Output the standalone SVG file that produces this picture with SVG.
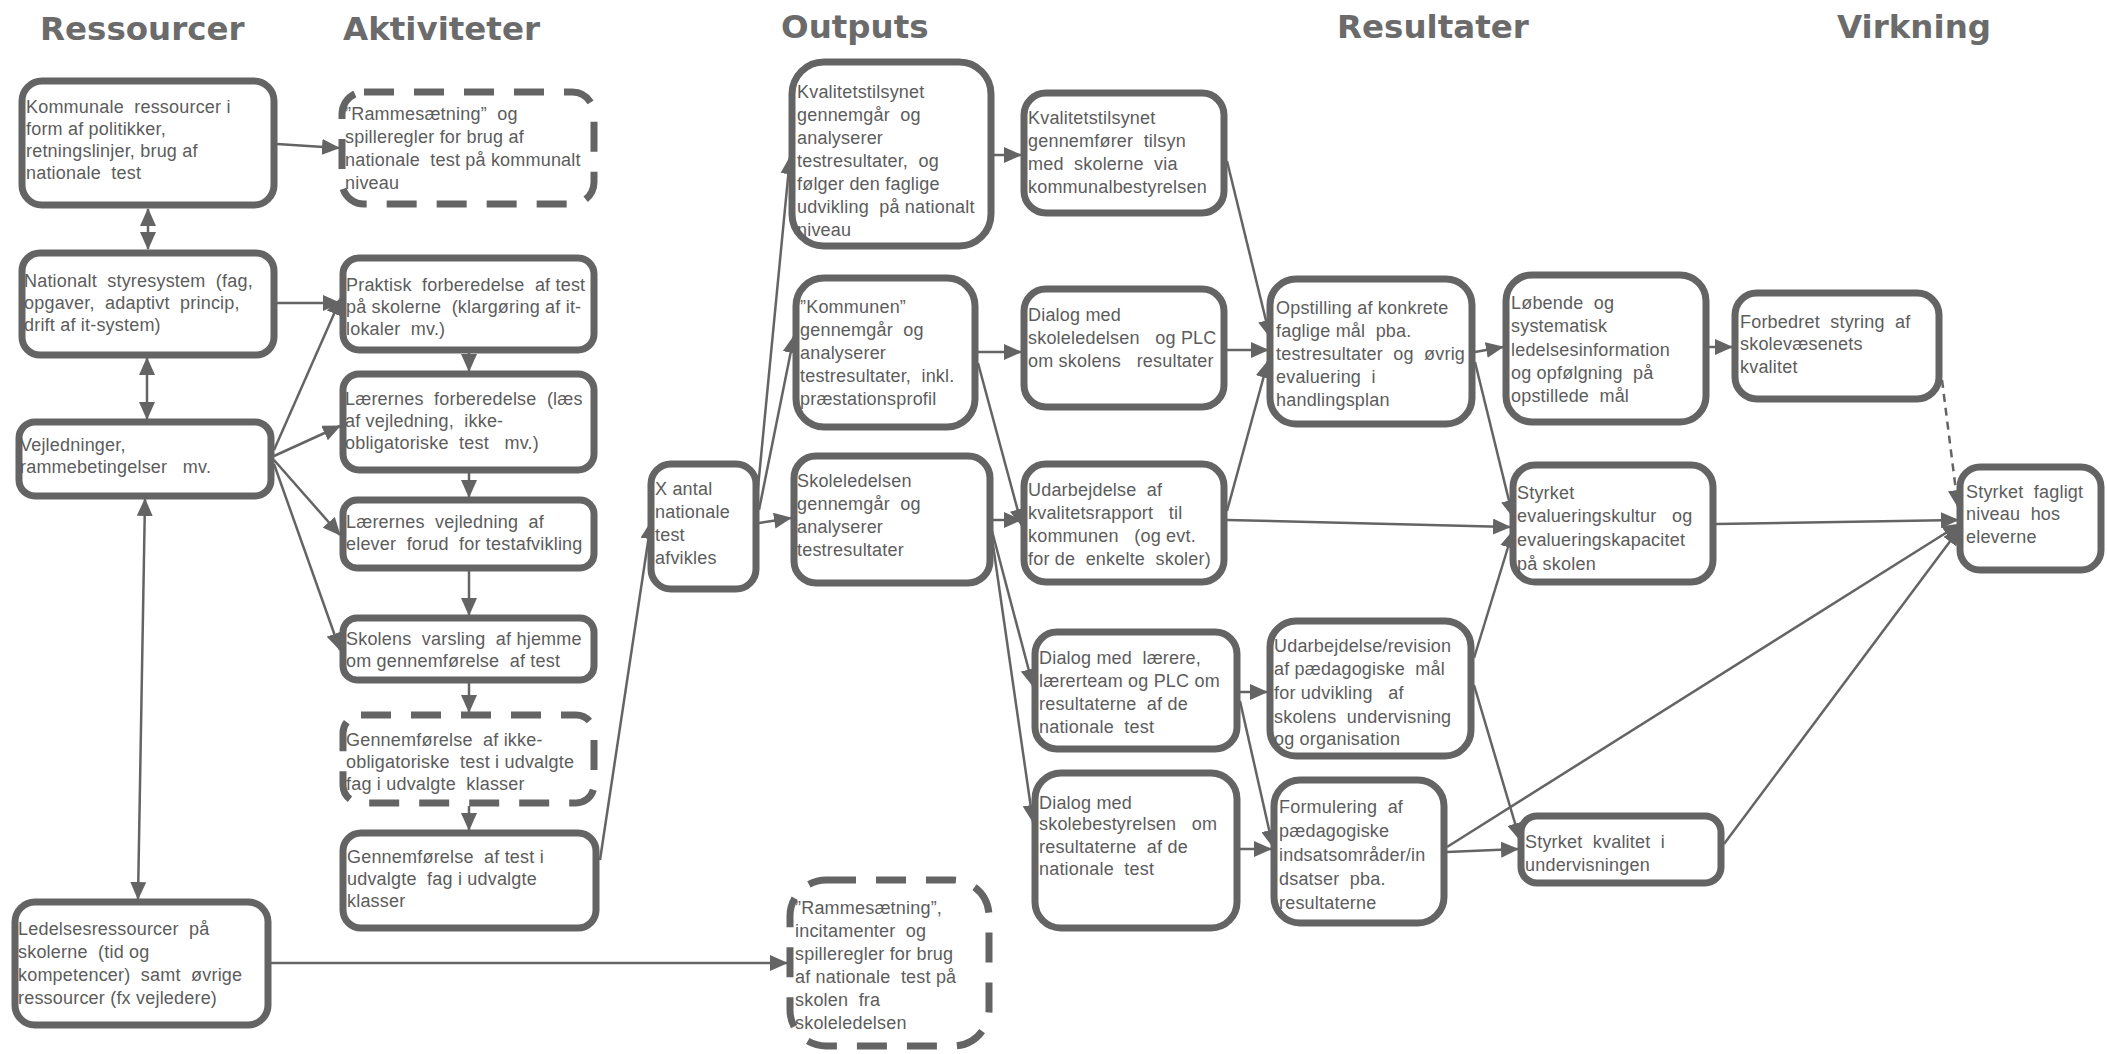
<svg xmlns="http://www.w3.org/2000/svg" width="2107" height="1054" viewBox="0 0 2107 1054">
<defs>
<marker id="ah" markerUnits="userSpaceOnUse" markerWidth="18" markerHeight="16" refX="17" refY="8" orient="auto-start-reverse" viewBox="0 0 18 16">
<path d="M0,0 L18,8 L0,16 z" fill="#646464"/>
</marker>
<style>
.box{fill:#fff;stroke:#646464;stroke-width:7}
.dash{fill:#fff;stroke:#646464;stroke-width:7;stroke-dasharray:30 20}
.t{font-family:"Liberation Sans",Arial,sans-serif;font-size:18px;letter-spacing:0.2px;fill:#5c5c5c;white-space:pre}
.h{font-family:"DejaVu Sans",sans-serif;font-weight:bold;font-size:32.5px;fill:#6b6b6b}
.c{fill:none;stroke:#646464;stroke-width:2.5}
.ca{fill:none;stroke:#646464;stroke-width:2.5;marker-end:url(#ah)}
.cd{fill:none;stroke:#646464;stroke-width:2.5;marker-end:url(#ah);marker-start:url(#ah)}
</style>
</defs>
<rect width="2107" height="1054" fill="#fff"/>
<g id="titles">
<text class="h" x="40" y="40">Ressourcer</text>
<text class="h" x="343" y="40">Aktiviteter</text>
<text class="h" x="781" y="38">Outputs</text>
<text class="h" x="1337" y="38">Resultater</text>
<text class="h" x="1837" y="38">Virkning</text>
</g>
<g id="connectors">
<path class="ca" d="M277,144 L339,148"/>
<path class="cd" d="M148,209 L148,249"/>
<path class="cd" d="M147,358 L147,419"/>
<path class="cd" d="M145,499 L138,899"/>
<path class="ca" d="M277,303 L340,303"/>
<path class="ca" d="M274,450 L341,298"/>
<path class="ca" d="M274,456 L340,426"/>
<path class="ca" d="M274,460 L340,535"/>
<path class="ca" d="M274,464 L340,650"/>
<path class="ca" d="M469,352 L469,371"/>
<path class="ca" d="M469,472 L469,497"/>
<path class="ca" d="M469,571 L469,615"/>
<path class="ca" d="M469,683 L469,712"/>
<path class="ca" d="M469,806 L469,830"/>
<path class="ca" d="M600,860 L651,522"/>
<path class="ca" d="M757,498 L790,157"/>
<path class="ca" d="M759,510 L794,336"/>
<path class="ca" d="M759,523 L791,518"/>
<path class="ca" d="M271,963 L787,963"/>
<path class="ca" d="M994,155 L1021,155"/>
<path class="ca" d="M978,352 L1021,352"/>
<path class="ca" d="M978,363 L1022,526"/>
<path class="ca" d="M992,520 L1021,520"/>
<path class="ca" d="M992,531 L1033,686"/>
<path class="ca" d="M992,538 L1033,822"/>
<path class="ca" d="M1227,161 L1270,337"/>
<path class="ca" d="M1227,350 L1268,350"/>
<path class="ca" d="M1227,511 L1268,361"/>
<path class="ca" d="M1227,520 L1510,527"/>
<path class="ca" d="M1475,352 L1503,347"/>
<path class="ca" d="M1475,362 L1513,517"/>
<path class="ca" d="M1474,658 L1513,531"/>
<path class="ca" d="M1474,685 L1520,840"/>
<path class="ca" d="M1240,692 L1267,692"/>
<path class="ca" d="M1240,701 L1273,847"/>
<path class="ca" d="M1240,849 L1271,849"/>
<path class="ca" d="M1447,852 L1518,849"/>
<path class="ca" d="M1709,347 L1732,347"/>
<path class="ca" d="M1942,380 L1958,507" stroke-dasharray="8 6"/>
<path class="ca" d="M1716,524 L1958,520"/>
<path class="ca" d="M1447,847 L1960,524"/>
<path class="ca" d="M1724,844 L1960,528"/>
</g>
<g id="n1"><rect class="box" x="22" y="81" width="252" height="124" rx="20"/>
<text class="t" x="26" y="113"><tspan x="26">Kommunale  ressourcer i</tspan><tspan x="26" dy="22">form af politikker,</tspan><tspan x="26" dy="22">retningslinjer, brug af</tspan><tspan x="26" dy="22">nationale  test</tspan></text></g>
<g id="n2"><rect class="box" x="22" y="253" width="252" height="102" rx="18"/>
<text class="t" x="24" y="287"><tspan x="24">Nationalt  styresystem  (fag,</tspan><tspan x="24" dy="22">opgaver,  adaptivt  princip,</tspan><tspan x="24" dy="22">drift af it-system)</tspan></text></g>
<g id="n3"><rect class="box" x="19" y="422" width="252" height="74" rx="16"/>
<text class="t" x="20" y="451"><tspan x="20">Vejledninger,</tspan><tspan x="20" dy="22">rammebetingelser   mv.</tspan></text></g>
<g id="n4"><rect class="box" x="15" y="902" width="253" height="123" rx="20"/>
<text class="t" x="18" y="935"><tspan x="18">Ledelsesressourcer  på</tspan><tspan x="18" dy="23">skolerne  (tid og</tspan><tspan x="18" dy="23">kompetencer)  samt  øvrige</tspan><tspan x="18" dy="23">ressourcer (fx vejledere)</tspan></text></g>
<g id="n5"><rect class="dash" x="342" y="92" width="252" height="112" rx="22"/>
<text class="t" x="345" y="120"><tspan x="345">”Rammesætning”  og</tspan><tspan x="345" dy="23">spilleregler for brug af</tspan><tspan x="345" dy="23">nationale  test på kommunalt</tspan><tspan x="345" dy="23">niveau</tspan></text></g>
<g id="n6"><rect class="box" x="343" y="258" width="251" height="92" rx="16"/>
<text class="t" x="346" y="291"><tspan x="346">Praktisk  forberedelse  af test</tspan><tspan x="346" dy="22">på skolerne  (klargøring af it-</tspan><tspan x="346" dy="22">lokaler  mv.)</tspan></text></g>
<g id="n7"><rect class="box" x="343" y="374" width="251" height="96" rx="16"/>
<text class="t" x="345" y="405"><tspan x="345">Lærernes  forberedelse  (læs</tspan><tspan x="345" dy="22">af vejledning,  ikke-</tspan><tspan x="345" dy="22">obligatoriske  test   mv.)</tspan></text></g>
<g id="n8"><rect class="box" x="343" y="500" width="251" height="68" rx="14"/>
<text class="t" x="346" y="528"><tspan x="346">Lærernes  vejledning  af</tspan><tspan x="346" dy="22">elever  forud  for testafvikling</tspan></text></g>
<g id="n9"><rect class="box" x="343" y="618" width="251" height="62" rx="14"/>
<text class="t" x="346" y="645"><tspan x="346">Skolens  varsling  af hjemme</tspan><tspan x="346" dy="22">om gennemførelse  af test</tspan></text></g>
<g id="n10"><rect class="dash" x="343" y="715" width="251" height="88" rx="18"/>
<text class="t" x="346" y="746"><tspan x="346">Gennemførelse  af ikke-</tspan><tspan x="346" dy="22">obligatoriske  test i udvalgte</tspan><tspan x="346" dy="22">fag i udvalgte  klasser</tspan></text></g>
<g id="n11"><rect class="box" x="343" y="833" width="253" height="95" rx="18"/>
<text class="t" x="347" y="863"><tspan x="347">Gennemførelse  af test i</tspan><tspan x="347" dy="22">udvalgte  fag i udvalgte</tspan><tspan x="347" dy="22">klasser</tspan></text></g>
<g id="n12"><rect class="box" x="651" y="464" width="105" height="125" rx="20"/>
<text class="t" x="655" y="495"><tspan x="655">X antal</tspan><tspan x="655" dy="23">nationale</tspan><tspan x="655" dy="23">test</tspan><tspan x="655" dy="23">afvikles</tspan></text></g>
<g id="n13"><rect class="box" x="792" y="62" width="199" height="184" rx="32"/>
<text class="t" x="797" y="98"><tspan x="797">Kvalitetstilsynet</tspan><tspan x="797" dy="23">gennemgår  og</tspan><tspan x="797" dy="23">analyserer</tspan><tspan x="797" dy="23">testresultater,  og</tspan><tspan x="797" dy="23">følger den faglige</tspan><tspan x="797" dy="23">udvikling  på nationalt</tspan><tspan x="797" dy="23">niveau</tspan></text></g>
<g id="n14"><rect class="box" x="796" y="278" width="179" height="149" rx="28"/>
<text class="t" x="800" y="313"><tspan x="800">”Kommunen”</tspan><tspan x="800" dy="23">gennemgår  og</tspan><tspan x="800" dy="23">analyserer</tspan><tspan x="800" dy="23">testresultater,  inkl.</tspan><tspan x="800" dy="23">præstationsprofil</tspan></text></g>
<g id="n15"><rect class="box" x="794" y="456" width="196" height="127" rx="22"/>
<text class="t" x="797" y="487"><tspan x="797">Skoleledelsen</tspan><tspan x="797" dy="23">gennemgår  og</tspan><tspan x="797" dy="23">analyserer</tspan><tspan x="797" dy="23">testresultater</tspan></text></g>
<g id="n16"><rect class="dash" x="790" y="880" width="199" height="166" rx="36"/>
<text class="t" x="795" y="914"><tspan x="795">”Rammesætning”,</tspan><tspan x="795" dy="23">incitamenter  og</tspan><tspan x="795" dy="23">spilleregler for brug</tspan><tspan x="795" dy="23">af nationale  test på</tspan><tspan x="795" dy="23">skolen  fra</tspan><tspan x="795" dy="23">skoleledelsen</tspan></text></g>
<g id="n17"><rect class="box" x="1024" y="93" width="200" height="120" rx="22"/>
<text class="t" x="1028" y="124"><tspan x="1028">Kvalitetstilsynet</tspan><tspan x="1028" dy="23">gennemfører  tilsyn</tspan><tspan x="1028" dy="23">med  skolerne  via</tspan><tspan x="1028" dy="23">kommunalbestyrelsen</tspan></text></g>
<g id="n18"><rect class="box" x="1024" y="289" width="200" height="118" rx="22"/>
<text class="t" x="1028" y="321"><tspan x="1028">Dialog med</tspan><tspan x="1028" dy="23">skoleledelsen   og PLC</tspan><tspan x="1028" dy="23">om skolens   resultater</tspan></text></g>
<g id="n19"><rect class="box" x="1024" y="464" width="200" height="118" rx="22"/>
<text class="t" x="1028" y="496"><tspan x="1028">Udarbejdelse  af</tspan><tspan x="1028" dy="23">kvalitetsrapport   til</tspan><tspan x="1028" dy="23">kommunen   (og evt.</tspan><tspan x="1028" dy="23">for de  enkelte  skoler)</tspan></text></g>
<g id="n20"><rect class="box" x="1035" y="632" width="202" height="117" rx="22"/>
<text class="t" x="1039" y="664"><tspan x="1039">Dialog med  lærere,</tspan><tspan x="1039" dy="23">lærerteam og PLC om</tspan><tspan x="1039" dy="23">resultaterne  af de</tspan><tspan x="1039" dy="23">nationale  test</tspan></text></g>
<g id="n21"><rect class="box" x="1035" y="773" width="202" height="155" rx="26"/>
<text class="t" x="1039" y="809"><tspan x="1039">Dialog med</tspan><tspan x="1039" dy="21">skolebestyrelsen   om</tspan><tspan x="1039" dy="23">resultaterne  af de</tspan><tspan x="1039" dy="22">nationale  test</tspan></text></g>
<g id="n22"><rect class="box" x="1270" y="279" width="202" height="145" rx="26"/>
<text class="t" x="1276" y="314"><tspan x="1276">Opstilling af konkrete</tspan><tspan x="1276" dy="23">faglige mål  pba.</tspan><tspan x="1276" dy="23">testresultater  og  øvrig</tspan><tspan x="1276" dy="23">evaluering  i</tspan><tspan x="1276" dy="23">handlingsplan</tspan></text></g>
<g id="n23"><rect class="box" x="1270" y="621" width="201" height="135" rx="26"/>
<text class="t" x="1274" y="652"><tspan x="1274">Udarbejdelse/revision</tspan><tspan x="1274" dy="23">af pædagogiske  mål</tspan><tspan x="1274" dy="24">for udvikling   af</tspan><tspan x="1274" dy="24">skolens  undervisning</tspan><tspan x="1274" dy="22">og organisation</tspan></text></g>
<g id="n24"><rect class="box" x="1274" y="780" width="170" height="143" rx="26"/>
<text class="t" x="1279" y="813"><tspan x="1279">Formulering  af</tspan><tspan x="1279" dy="24">pædagogiske</tspan><tspan x="1279" dy="24">indsatsområder/in</tspan><tspan x="1279" dy="24">dsatser  pba.</tspan><tspan x="1279" dy="24">resultaterne</tspan></text></g>
<g id="n25"><rect class="box" x="1506" y="275" width="200" height="147" rx="26"/>
<text class="t" x="1511" y="309"><tspan x="1511">Løbende  og</tspan><tspan x="1511" dy="23">systematisk</tspan><tspan x="1511" dy="24">ledelsesinformation</tspan><tspan x="1511" dy="23">og opfølgning  på</tspan><tspan x="1511" dy="23">opstillede  mål</tspan></text></g>
<g id="n26"><rect class="box" x="1513" y="465" width="200" height="117" rx="22"/>
<text class="t" x="1517" y="499"><tspan x="1517">Styrket</tspan><tspan x="1517" dy="23">evalueringskultur   og</tspan><tspan x="1517" dy="24">evalueringskapacitet</tspan><tspan x="1517" dy="24">på skolen</tspan></text></g>
<g id="n27"><rect class="box" x="1521" y="816" width="200" height="67" rx="16"/>
<text class="t" x="1525" y="848"><tspan x="1525">Styrket  kvalitet  i</tspan><tspan x="1525" dy="23">undervisningen</tspan></text></g>
<g id="n28"><rect class="box" x="1735" y="293" width="204" height="106" rx="22"/>
<text class="t" x="1740" y="328"><tspan x="1740">Forbedret  styring  af</tspan><tspan x="1740" dy="22">skolevæsenets</tspan><tspan x="1740" dy="23">kvalitet</tspan></text></g>
<g id="n29"><rect class="box" x="1960" y="467" width="141" height="103" rx="20"/>
<text class="t" x="1966" y="498"><tspan x="1966">Styrket  fagligt</tspan><tspan x="1966" dy="22">niveau  hos</tspan><tspan x="1966" dy="23">eleverne</tspan></text></g>
</svg>
